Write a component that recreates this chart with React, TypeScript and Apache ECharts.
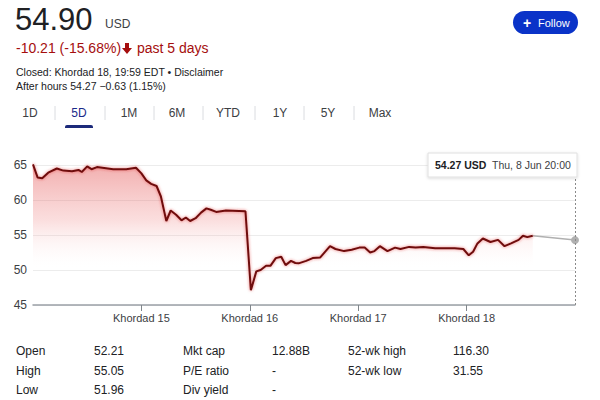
import React, { useEffect, useRef } from "react";
import * as echarts from "echarts";

// x position in trading days since the start of the 5-day window (Khordad 15 tick = 1)
const dayPos = [
  0, 0.043, 0.085, 0.14, 0.22, 0.28, 0.36, 0.42, 0.45, 0.5,
  0.54, 0.59, 0.74, 0.86, 0.95, 1.0, 1.045, 1.09, 1.14, 1.18,
  1.23, 1.27, 1.32, 1.37, 1.41, 1.45, 1.5, 1.55, 1.6, 1.64,
  1.69, 1.78, 1.96, 2.01, 2.06, 2.1, 2.15, 2.19, 2.24, 2.29,
  2.33, 2.38, 2.42, 2.45, 2.52, 2.58, 2.65, 2.74, 2.79, 2.87,
  2.94, 3.01, 3.06, 3.11, 3.15, 3.2, 3.27, 3.34, 3.39, 3.47,
  3.53, 3.6, 3.71, 3.8, 3.89, 3.97, 4.02, 4.06, 4.1, 4.15,
  4.22, 4.29, 4.35, 4.41, 4.48, 4.52, 4.56, 4.61,
];
const prices = [
  65.1, 63.2, 63.1, 63.9, 64.5, 64.2, 64.1, 64.3, 64.0, 64.8,
  64.4, 64.7, 64.4, 64.4, 64.6, 63.8, 62.8, 62.3, 62.0, 60.5,
  57.0, 58.5, 57.9, 57.1, 57.5, 57.0, 57.4, 58.2, 58.8, 58.6,
  58.3, 58.5, 58.4, 47.1, 49.8, 50.0, 50.6, 50.6, 51.7, 51.9,
  50.7, 51.3, 51.0, 50.95, 51.3, 51.7, 51.8, 53.4, 53.0, 52.7,
  52.9, 53.2, 53.2, 52.5, 52.7, 53.4, 52.7, 53.2, 53.0, 53.3,
  53.2, 53.3, 53.1, 53.1, 53.1, 53.0, 52.1, 52.6, 53.8, 54.5,
  54.0, 54.3, 53.4, 53.8, 54.3, 54.9, 54.7, 54.9,
];
// after-hours segment
const afterPos = [4.61, 5.0];
const afterPrices = [54.9, 54.27];

const dayTicks = [1, 2, 3, 4];
const dayLabels = ["Khordad 15", "Khordad 16", "Khordad 17", "Khordad 18"];
const yTicks = [45, 50, 55, 60, 65];

const tabs = ["1D", "5D", "1M", "6M", "YTD", "1Y", "5Y", "Max"];
const tabX = [30, 79, 129, 177, 228, 280, 328, 380];
const sepX = [55, 105, 154, 203, 255, 304, 354];

const statLabels = [
  ["Open", "High", "Low"],
  ["Mkt cap", "P/E ratio", "Div yield"],
  ["52-wk high", "52-wk low"],
];
const statValues = [
  ["52.21", "55.05", "51.96"],
  ["12.88B", "-", "-"],
  ["116.30", "31.55"],
];
const statLabelX = [16, 183, 348];
const statValueX = [94, 272, 453];
const statRowY = [351, 371, 390];

const FONT = "'Liberation Sans', Arial, sans-serif";

export default function App() {
  const ref = useRef<HTMLDivElement>(null);
  useEffect(() => {
    if (!ref.current) return;
    const chart = echarts.init(ref.current, undefined, { renderer: "svg" });

    const graphics: any[] = [];
    const txt = (text: string, x: number, y: number, size: number, fill: string, extra: any = {}) =>
      graphics.push({
        type: "text",
        x,
        y,
        z: 100,
        style: { text, fontSize: size, fontFamily: FONT, fill, verticalAlign: "middle", ...extra },
      });

    // header
    txt("54.90", 15, 19, 31, "#202124");
    txt("USD", 105, 24, 12, "#3c4043");
    txt("-10.21 (-15.68%)", 16, 48, 14, "#a50e0e");
    graphics.push({
      type: "polygon",
      z: 100,
      shape: { points: [[125, 43], [129, 43], [129, 48], [132, 48], [127, 54], [122, 48], [125, 48]] },
      style: { fill: "#a50e0e" },
    });
    txt("past 5 days", 137, 48, 14, "#a50e0e");
    txt("Closed: Khordad 18, 19:59 EDT \u2022 Disclaimer", 16, 72, 10.5, "#202124");
    txt("After hours 54.27 \u22120.63 (1.15%)", 16, 86, 10.5, "#202124");

    // follow button
    graphics.push({
      type: "rect",
      z: 100,
      shape: { x: 513, y: 11, width: 65, height: 23, r: 11.5 },
      style: { fill: "#0a33c8" },
    });
    txt("+", 523, 22.5, 14, "#ffffff", { fontWeight: "bold" });
    txt("Follow", 538, 22.5, 11, "#ffffff");

    // tabs
    tabs.forEach((t, i) => {
      txt(t, tabX[i], 113, 12, i === 1 ? "#1a2a8a" : "#3c4043", { align: "center" });
    });
    sepX.forEach((x) =>
      graphics.push({
        type: "line",
        z: 100,
        shape: { x1: x, y1: 106, x2: x, y2: 120 },
        style: { stroke: "#dadce0", lineWidth: 1 },
      })
    );
    graphics.push({
      type: "rect",
      z: 100,
      shape: { x: 65, y: 125, width: 28, height: 3, r: [2, 2, 0, 0] },
      style: { fill: "#1c2a7a" },
    });

    // tooltip box
    graphics.push({
      type: "rect",
      z: 100,
      shape: { x: 428, y: 153, width: 149, height: 24 },
      style: { fill: "#ffffff", stroke: "#e0e0e0", lineWidth: 1, shadowBlur: 3, shadowColor: "rgba(0,0,0,0.15)", shadowOffsetY: 1 },
    });
    txt("54.27 USD", 435, 165, 10.5, "#202124", { fontWeight: "bold" });
    txt("Thu, 8 Jun 20:00", 492, 165, 10.5, "#3c4043");

    // stats table
    statLabels.forEach((col, c) =>
      col.forEach((lab, r) => {
        txt(lab, statLabelX[c], statRowY[r], 12, "#202124");
        txt(statValues[c][r], statValueX[c], statRowY[r], 12, "#202124");
      })
    );

    const mainData = dayPos.map((d, i) => [d, prices[i]]);
    const afterData = afterPos.map((d, i) =>
      i === afterPos.length - 1
        ? { value: [d, afterPrices[i]], symbol: "circle", symbolSize: 8 }
        : { value: [d, afterPrices[i]], symbol: "none" }
    );

    chart.setOption({
      animation: false,
      backgroundColor: "#ffffff",
      grid: { left: 33, right: 25, top: 165, bottom: 95, containLabel: false },
      xAxis: {
        type: "value",
        min: 0,
        max: 5,
        interval: 1,
        axisLine: { show: true, lineStyle: { color: "#9aa0a6", width: 1.5 } },
        axisTick: {
          show: true,
          length: 6,
          lineStyle: { color: "#80868b" },
          customValues: dayTicks,
        },
        axisLabel: {
          customValues: dayTicks,
          formatter: (v: number) => dayLabels[dayTicks.indexOf(v)] ?? "",
          color: "#3c4043",
          fontSize: 11,
          fontFamily: FONT,
          margin: 7,
        },
        splitLine: { show: false },
      },
      yAxis: {
        type: "value",
        min: 45,
        max: 65,
        interval: 5,
        axisLine: { show: false },
        axisTick: { show: false },
        axisLabel: {
          color: "#3c4043",
          fontSize: 12,
          fontFamily: FONT,
          margin: 6,
          customValues: yTicks,
        },
        splitLine: { show: true, lineStyle: { color: "#ececec", width: 1 } },
      },
      series: [
        {
          type: "line",
          data: mainData,
          clip: false,
          symbol: "none",
          lineStyle: {
            color: "#6e0d0d",
            width: 2,
            shadowColor: "rgba(220,40,40,0.6)",
            shadowBlur: 3,
          },
          areaStyle: {
            color: new echarts.graphic.LinearGradient(0, 0, 0, 1, [
              { offset: 0, color: "rgba(225,70,70,0.62)" },
              { offset: 0.4, color: "rgba(235,100,100,0.3)" },
              { offset: 0.75, color: "rgba(255,255,255,0)" },
              { offset: 1, color: "rgba(255,255,255,0)" },
            ]),
          },
          z: 3,
        },
        {
          type: "line",
          data: afterData,
          clip: false,
          showSymbol: true,
          symbol: "circle",
          itemStyle: { color: "#b0b0b0" },
          lineStyle: { color: "#b0b0b0", width: 1.5 },
          markLine: {
            silent: true,
            symbol: "none",
            label: { show: false },
            lineStyle: { color: "#8a8a8a", type: [2, 2], width: 1 },
            data: [{ xAxis: 5 }],
          },
          z: 2,
        },
      ],
      graphic: graphics,
    });
    return () => chart.dispose();
  }, []);
  return <div ref={ref} style={{ position: "fixed", left: 0, top: 0, width: 600, height: 400 }} />;
}
